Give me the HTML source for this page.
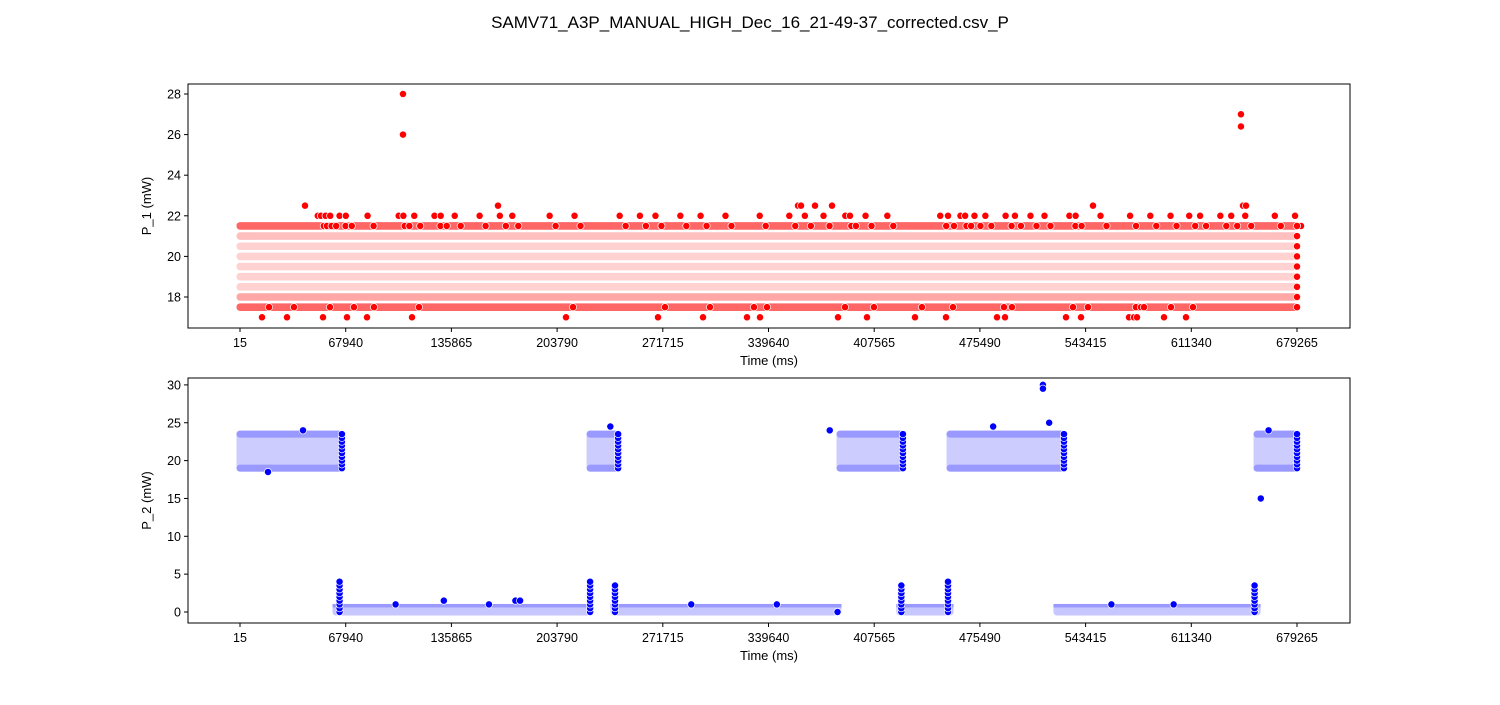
<!DOCTYPE html>
<html><head><meta charset="utf-8"><style>
body{margin:0;background:#fff}
svg text{font-family:"Liberation Sans","DejaVu Sans",sans-serif;fill:#000}
</style></head><body>
<svg id="fig" width="1500" height="700" xmlns="http://www.w3.org/2000/svg">
<rect width="1500" height="700" fill="#fff"/>
<text x="750" y="28" text-anchor="middle" font-size="17">SAMV71_A3P_MANUAL_HIGH_Dec_16_21-49-37_corrected.csv_P</text>
<g id="p1"></g>
<g id="p2"></g>
</svg>
<script>
// ---- shared data ----
const xTicks = [15, 67940, 135865, 203790, 271715, 339640, 407565, 475490, 543415, 611340, 679265];
const tStart = 15, tEnd = 679265;
// ---- P_1 data ----
const p1Levels = [17.5, 18, 18.5, 19, 19.5, 20, 20.5, 21, 21.5];
const p1LevelShade = [0.6, 0.35, 0.18, 0.18, 0.18, 0.18, 0.18, 0.25, 0.6];
const p1YTicks = [18, 20, 22, 24, 26, 28];
const p1HighT = [104750, 104750, 643250, 643250, 41785, 165810, 358599, 360527, 369524, 380449, 548169, 644561, 646489];
const p1HighV = [28, 26, 27, 26.4, 22.5, 22.5, 22.5, 22.5, 22.5, 22.5, 22.5, 22.5, 22.5];
const p1RowT = [50000,52000,55000,58000,64000,68000,82000,102000,105000,112000,125000,129000,138000,154000,167000,175000,199000,215000,244000,257000,267000,283000,296000,312000,334000,353000,363000,375000,389000,392000,402000,416000,450000,455000,463000,466000,472000,479000,492000,498000,508000,517000,533000,537000,553000,572000,585000,598000,610000,617000,630000,637000,646000,665000,678000];
const p1LowT = [14153,30218,53352,68776,81628,110546,209509,268631,297549,325825,334179,384303,402939,433785,453706,486479,491620,530820,540459,571305,574518,576446,593797,607934];
// ---- P_2 data ----
const p2YTicks = [0, 5, 10, 15, 20, 25, 30];
const p2HighStart = [15, 225000, 385600, 456300, 653600];
const p2HighEnd = [65500, 243000, 426000, 529500, 679265];
const p2HighMin = [19, 19, 19, 19, 19];
const p2HighMax = [23.5, 23.5, 23.5, 23.5, 23.5];
const p2LowStart = [61700, 240400, 424000, 525000];
const p2LowEnd = [225000, 384300, 456300, 653600];
const p2LowMax = [0.6, 0.6, 0.6, 0.6];
const p2SpikeT = [64000, 225000, 241000, 425000, 455000, 652000];
const p2SpikeV = [4, 4, 3.5, 3.5, 4, 3.5];
const p2OutT = [516000, 516000, 656000, 18000, 40500, 238000, 379000, 484000, 520000, 661000, 131000, 177000, 180000, 384000, 100000, 160000, 290000, 345000, 560000, 600000];
const p2OutV = [30, 29.5, 15, 18.5, 24, 24.5, 24, 24.5, 25, 24, 1.5, 1.5, 1.5, 0, 1, 1, 1, 1, 1, 1];

const NS = "http://www.w3.org/2000/svg";
const L = 188, R = 1350;
const sx = t => 240 + (t - 15) * (1297 - 240) / 679250;
function el(parent, tag, attrs) {
  const e = document.createElementNS(NS, tag);
  for (const k in attrs) e.setAttribute(k, attrs[k]);
  parent.appendChild(e);
  return e;
}
function mix(c, s) {
  return c === 'r' ? `rgb(255,${Math.round(255 - 255 * s)},${Math.round(255 - 255 * s)})`
                   : `rgb(${Math.round(255 - 255 * s)},${Math.round(255 - 255 * s)},255)`;
}
function dot(g, x, y, fill, name) {
  const c = el(g, 'circle', {cx: x, cy: y, r: 3.6, fill: fill, stroke: '#fff', 'stroke-width': 0.7});
  
  
}
function axes(g, top, bot, sy, yTicks, ylabel) {
  const f = el(g, 'rect', {x: L, y: top, width: R - L, height: bot - top, fill: 'none', stroke: '#000', 'stroke-width': 1});
  
  
  xTicks.forEach(t => {
    const x = sx(t);
    el(g, 'line', {x1: x, x2: x, y1: bot, y2: bot + 4, stroke: '#000'});
    const tx = el(g, 'text', {x: x, y: bot + 19, 'text-anchor': 'middle', 'font-size': 12.5});
    tx.textContent = t;
    
    
  });
  yTicks.forEach(v => {
    const y = sy(v);
    el(g, 'line', {x1: L - 4, x2: L, y1: y, y2: y, stroke: '#000'});
    const tx = el(g, 'text', {x: L - 7, y: y + 4.5, 'text-anchor': 'end', 'font-size': 12.5});
    tx.textContent = v;
    
    
  });
  const xl = el(g, 'text', {x: (L + R) / 2, y: bot + 37, 'text-anchor': 'middle', 'font-size': 13});
  xl.textContent = 'Time (ms)';
  
  
  const yl = el(g, 'text', {x: 0, y: 0, 'text-anchor': 'middle', 'font-size': 13, transform: `translate(151,${(top + bot) / 2}) rotate(-90)`});
  yl.textContent = ylabel;
  
  
}

// ---- P_1 ----
(function () {
  const g = document.getElementById('p1');
  const sy = v => 297 - (v - 18) * 20.3;
  const x0 = sx(tStart), x1 = sx(tEnd);
  p1Levels.forEach((v, i) => {
    const r = el(g, 'rect', {x: x0 - 3.5, y: sy(v) - 3.8, width: x1 - x0 + 7, height: 7.6, rx: 3.5, fill: mix('r', p1LevelShade[i])});
    
    
  });
  p1RowT.forEach(t => dot(g, sx(t), sy(22), '#ff0000', 'p1-point'));
  p1RowT.forEach(t => dot(g, sx(t) + 6, sy(21.5), '#ff0000', 'p1-point'));
  p1LowT.forEach(t => dot(g, sx(t), sy(17), '#ff0000', 'p1-point'));
  p1LowT.forEach(t => dot(g, sx(t) + 7, sy(17.5), '#ff0000', 'p1-point'));
  p1HighT.forEach((t, i) => dot(g, sx(t), sy(p1HighV[i]), '#ff0000', 'p1-point'));
  p1Levels.forEach(v => dot(g, sx(tEnd), sy(v), '#ff0000', 'p1-point'));
  axes(g, 84, 328, sy, p1YTicks, 'P_1 (mW)');
})();

// ---- P_2 ----
(function () {
  const g = document.getElementById('p2');
  const sy = v => 612 - v * 7.57;
  p2HighStart.forEach((t, i) => {
    const xa = sx(t), xb = sx(p2HighEnd[i]);
    const ya = sy(p2HighMax[i]), yb = sy(p2HighMin[i]);
    const r = el(g, 'rect', {x: xa - 3.5, y: ya - 3.5, width: xb - xa + 7, height: yb - ya + 7, rx: 3.5, fill: mix('b', 0.2)});
    
    
    [ya, yb].forEach(y => {
      const e = el(g, 'rect', {x: xa - 3.5, y: y - 3.5, width: xb - xa + 7, height: 7, rx: 3.5, fill: mix('b', 0.4)});
      
      
    });
    for (let v = p2HighMin[i]; v <= p2HighMax[i]; v += 0.5) dot(g, xb, sy(v), '#0000ff', 'p2-point');
  });
  p2LowStart.forEach((t, i) => {
    const xa = sx(t), xb = sx(p2LowEnd[i]);
    const r = el(g, 'rect', {x: xa - 3.5, y: sy(p2LowMax[i]) - 3.5, width: xb - xa + 7, height: sy(0) - sy(p2LowMax[i]) + 7, rx: 3.5, fill: mix('b', 0.22)});
    
    
    const e = el(g, 'rect', {x: xa - 3.5, y: sy(p2LowMax[i]) - 3.5, width: xb - xa + 7, height: 3.5, fill: mix('b', 0.4)});
    
    
  });
  p2SpikeT.forEach((t, i) => {
    for (let v = 0; v <= p2SpikeV[i]; v += 0.5) dot(g, sx(t), sy(v), '#0000ff', 'p2-point');
  });
  p2OutT.forEach((t, i) => dot(g, sx(t), sy(p2OutV[i]), '#0000ff', 'p2-point'));
  axes(g, 378, 623, sy, p2YTicks, 'P_2 (mW)');
})();
</script>
</body></html>
